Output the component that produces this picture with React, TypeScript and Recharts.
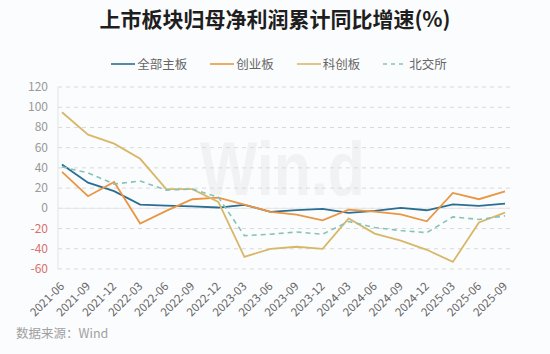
import React from 'react';
import { LineChart, Line, XAxis, YAxis, CartesianGrid, ReferenceLine } from 'recharts';

const QUARTERS = [
  '2021-06', '2021-09', '2021-12', '2022-03', '2022-06', '2022-09',
  '2022-12', '2023-03', '2023-06', '2023-09', '2023-12', '2024-03',
  '2024-06', '2024-09', '2024-12', '2025-03', '2025-06', '2025-09',
];

const MAIN_BOARD = [43.4, 25.4, 17, 3.7, 2.7, 2, 0.8, 3.5, -3.5, -1.8, -0.6, -4.5, -2.6, 0.4, -1.9, 4, 2.4, 4.7];
const CHINEXT = [36, 12, 26, -15, -2.5, 9, 10.5, 3.7, -3.5, -6.2, -11.8, -1.2, -3.2, -5.9, -12.8, 15.2, 9, 16.8];
const STAR = [95, 72.8, 64, 49, 19, 19, 6.4, -48, -40, -38, -40, -10, -25, -32, -41, -53, -14, -4.3];
const BSE = [41, 35, 24, 27, 18, 19, 11, -27, -25.6, -23.4, -25.6, -13, -19, -22, -24, -8.5, -11, -7.5];

const Y_TICKS = [-60, -40, -20, 0, 20, 40, 60, 80, 100, 120];

const FONT = '"Noto Sans CJK SC", "Noto Sans", sans-serif';

const SERIES = [
  { key: 'main', label: '全部主板', color: '#2b6e91', dashed: false },
  { key: 'chinext', label: '创业板', color: '#ea9642', dashed: false },
  { key: 'star', label: '科创板', color: '#d9b768', dashed: false },
  { key: 'bse', label: '北交所', color: '#86c2b8', dashed: true },
];

const data = QUARTERS.map((q, i) => ({
  q,
  main: MAIN_BOARD[i],
  chinext: CHINEXT[i],
  star: STAR[i],
  bse: BSE[i],
}));

function XTick({ x, y, payload }: { x?: number; y?: number; payload?: { value: string } }) {
  return (
    <text
      x={(x ?? 0) + 3}
      y={(y ?? 0) + 10}
      transform={`rotate(-45 ${(x ?? 0) + 3} ${(y ?? 0) + 10})`}
      textAnchor="end"
      fontSize={11.5}
      fontFamily={FONT}
      fill="#666"
    >
      {payload?.value}
    </text>
  );
}

function YTick({ x, y, payload }: { x?: number; y?: number; payload?: { value: number } }) {
  const v = payload?.value ?? 0;
  return (
    <text
      x={(x ?? 0) - 2}
      y={(y ?? 0) + 4}
      textAnchor="end"
      fontSize={12}
      fontFamily={FONT}
      fill={v < 0 ? '#d9706c' : '#999'}
    >
      {v}
    </text>
  );
}

export default function App() {
  return (
    <div style={{ position: 'relative', width: 550, height: 354, background: '#fbfcfd', fontFamily: FONT, overflow: 'hidden' }}>
      <style>{'body{margin:0}'}</style>

      {/* title */}
      <div style={{ position: 'absolute', top: 3, left: 0, width: 550, textAlign: 'center', fontSize: 21, fontWeight: 700, color: '#1e1e1e', lineHeight: '30px' }}>
        上市板块归母净利润累计同比增速(%)
      </div>

      {/* legend */}
      <div style={{ position: 'absolute', top: 55, left: 0, width: 550, display: 'flex', justifyContent: 'center', gap: 23, fontSize: 12.5, color: '#666', lineHeight: '18px', paddingLeft: 8, boxSizing: 'border-box' }}>
        {SERIES.map((s) => (
          <div key={s.key} style={{ display: 'flex', alignItems: 'center', gap: 2 }}>
            <svg width={24} height={10}>
              <line x1={0} x2={24} y1={5} y2={5} stroke={s.color} strokeWidth={1.6} strokeDasharray={s.dashed ? '4 4' : undefined} />
            </svg>
            <span>{s.label}</span>
          </div>
        ))}
      </div>

      {/* watermark */}
      <div style={{ position: 'absolute', top: 124, left: 200, fontSize: 76, fontWeight: 700, color: '#f1f2f4', fontFamily: '"Liberation Sans", sans-serif', transform: 'scaleX(0.8)', transformOrigin: 'left top', lineHeight: '90px' }}>
        Win.d
      </div>

      <div style={{ position: 'absolute', top: 0, left: 0 }}>
        <LineChart width={550} height={354} data={data} margin={{ top: 87, right: 40, bottom: 25, left: 0 }}>
          <CartesianGrid vertical={false} stroke="#d9d9d9" strokeDasharray="4 4" />
          <XAxis
            dataKey="q"
            interval={0}
            tick={<XTick />}
            tickLine={false}
            axisLine={false}
            height={60}
            padding={{ left: 4, right: 5 }}
          />
          <YAxis
            domain={[-60, 120]}
            ticks={Y_TICKS}
            interval={0}
            tick={<YTick />}
            tickLine={false}
            axisLine={{ stroke: '#e3e3e3' }}
            width={58}
          />
          <ReferenceLine y={0} stroke="#e6e6e6" strokeWidth={1} />
          {SERIES.map((s) => (
            <Line
              key={s.key}
              type="linear"
              dataKey={s.key}
              stroke={s.color}
              strokeWidth={s.dashed ? 1.6 : 1.8}
              strokeDasharray={s.dashed ? '5 4' : undefined}
              dot={false}
              isAnimationActive={false}
            />
          ))}
        </LineChart>
      </div>

      {/* source */}
      <div style={{ position: 'absolute', top: 324, left: 16, fontSize: 12.5, color: '#a0a0a0', lineHeight: '18px' }}>
        数据来源：Wind
      </div>
    </div>
  );
}
